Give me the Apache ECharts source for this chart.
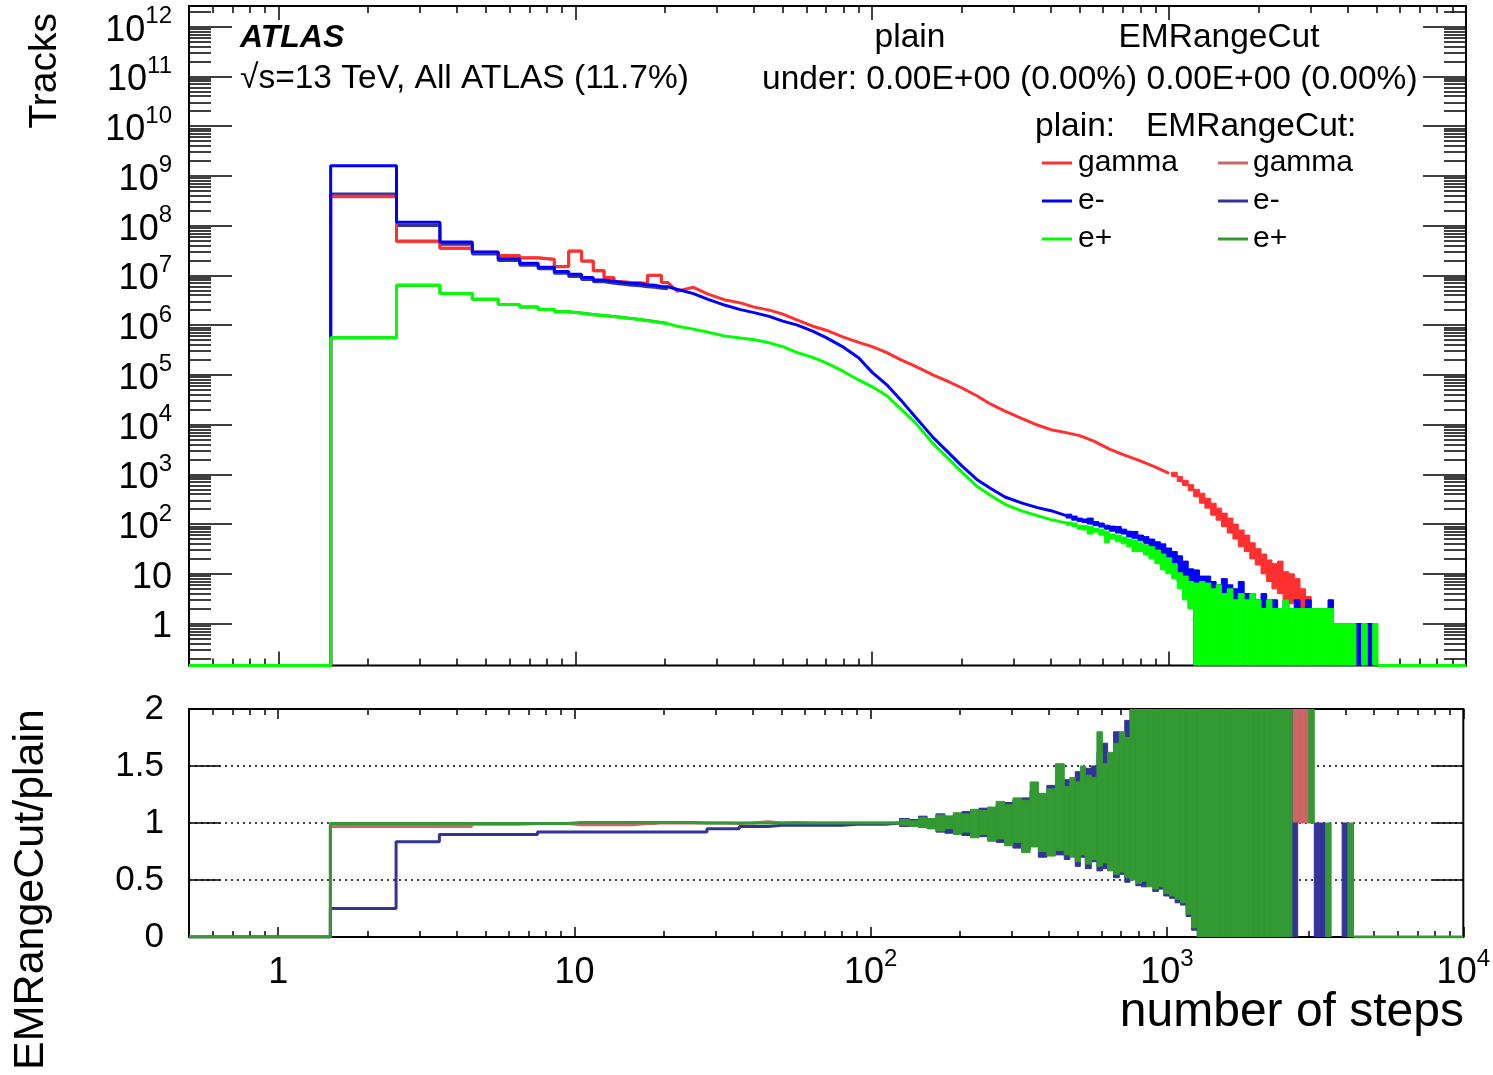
<!DOCTYPE html>
<html>
<head>
<meta charset="utf-8">
<script src="https://cdn.jsdelivr.net/npm/echarts@6/dist/echarts.min.js"></script>
<style>
html, body { margin: 0; padding: 0; background: #fff; }
#container { width: 1493px; height: 1075px; }
</style>
</head>
<body>
<div id="container"></div>
<script>
// number of steps per track, single bins (centres)
var lowSteps = [2, 3, 4, 5, 6, 7, 8, 9, 10, 11, 12, 13, 14, 15, 16, 17, 18, 19, 20];
// tracks, plain
var gammaLow  = [3.9e8, 4.9e7, 3.55e7, 2.9e7, 2.5e7, 2.25e7, 2.1e7, 1.5e7, 3.1e7, 1.95e7, 1.25e7, 9.1e6, 7.4e6, 7.2e6, 7.1e6, 6.9e6, 1.0e7, 1.0e7, 7.2e6];
var eMinusLow = [1.6e9, 1.17e8, 4.7e7, 2.95e7, 2.15e7, 1.75e7, 1.45e7, 1.2e7, 1.05e7, 9.1e6, 8.1e6, 7.6e6, 7.2e6, 6.9e6, 6.8e6, 6.5e6, 6.3e6, 6.0e6, 5.9e6];
var ePlusLow  = [5.6e5, 6.3e6, 4.3e6, 3.3e6, 2.6e6, 2.3e6, 2.05e6, 1.86e6, 1.74e6, 1.62e6, 1.55e6, 1.48e6, 1.41e6, 1.35e6, 1.29e6, 1.23e6, 1.17e6, 1.12e6, 1.07e6];
// tracks, EMRangeCut
var gammaCutLow  = [3.8e8, 4.75e7, 3.45e7, 2.87e7, 2.48e7, 2.24e7, 2.09e7, 1.49e7, 3.05e7, 1.92e7, 1.23e7, 9.0e6, 7.3e6, 7.1e6, 7.05e6, 6.9e6, 9.9e6, 9.9e6, 7.2e6];
var eMinusCutLow = [4.3e8, 1.0e8, 4.2e7, 2.7e7, 2.0e7, 1.6e7, 1.35e7, 1.1e7, 9.5e6, 8.3e6, 7.4e6, 6.9e6, 6.6e6, 6.3e6, 6.2e6, 5.9e6, 5.75e6, 5.5e6, 5.4e6];
var ePlusCutLow  = [5.6e5, 6.3e6, 4.3e6, 3.3e6, 2.6e6, 2.3e6, 2.05e6, 1.86e6, 1.75e6, 1.63e6, 1.56e6, 1.49e6, 1.42e6, 1.36e6, 1.3e6, 1.24e6, 1.18e6, 1.13e6, 1.08e6];

// smooth middle part (sampled)
var midSteps  = [22, 25, 28, 32, 36, 40, 45, 50, 56, 63, 70, 80, 90, 100, 112, 125, 140, 160, 180, 200, 225, 250, 280, 320, 360, 400, 450, 500, 560, 630, 700, 800, 900, 1000, 1120, 1210];
var gammaMid  = [4.8e6, 5.75e6, 4.2e6, 3.2e6, 2.8e6, 2.3e6, 2.0e6, 1.66e6, 1.26e6, 9.5e5, 7.9e5, 5.75e5, 4.5e5, 3.7e5, 2.8e5, 2.0e5, 1.48e5, 1.0e5, 7.4e4, 5.5e4, 3.8e4, 2.6e4, 1.86e4, 1.32e4, 9.8e3, 7.9e3, 6.9e3, 6.0e3, 4.6e3, 3.2e3, 2.5e3, 1.86e3, 1.4e3, 1.05e3, null, null];
var eMinusMid = [5.25e6, 4.3e6, 3.3e6, 2.5e6, 2.05e6, 1.78e6, 1.5e6, 1.2e6, 1.0e6, 7.6e5, 5.6e5, 3.6e5, 2.2e5, 1.12e5, 6.3e4, 3.1e4, 1.4e4, 5.6e3, 2.8e3, 1.5e3, 790, 525, 350, 263, 214, 186, 148, null, null, null, null, null, null, null, null, null];
var ePlusMid  = [9.5e5, 8.3e5, 7.2e5, 6.0e5, 5.5e5, 5.1e5, 4.4e5, 3.7e5, 2.8e5, 2.24e5, 1.74e5, 1.17e5, 7.9e4, 5.75e4, 3.8e4, 2.04e4, 1.07e4, 4.2e3, 2.1e3, 1.12e3, 575, 380, 250, 182, 148, 123, 105, null, null, null, null, null, null, null, null, null];

// noisy tail: bin groups start at tailSteps[i], end at tailSteps[i+1]; low / high tracks in the group
var tailSteps = [450, 470, 490, 510, 530, 555, 580, 605, 630, 660, 690, 720, 750, 785, 820, 855, 895, 935, 975, 1020, 1065, 1110, 1160, 1210, 1265, 1320, 1380, 1440, 1500, 1570, 1640, 1710, 1790, 1870, 1950, 2040, 2130, 2220, 2320, 2420, 2530, 2640, 2760, 2880, 3010, 3140, 3280, 3430, 3580, 3740, 3900, 4080, 4260, 4450, 4650, 4850, 5050];
var gammaTailHi = [null, null, null, null, null, null, null, null, null, null, null, null, null, null, null, null, null, null, null,
  1100, 900, 760, 620,
  500, 417, 331, 263, 209, 166, 132, 100, 76, 60, 42, 32, 25, 19, 16, 18, 11, 10, 8, 5, 3.5,
  null, null, null, null, null, null, null, null, null, null, null, null];
var gammaTailLo = [null, null, null, null, null, null, null, null, null, null, null, null, null, null, null, null, null, null, null,
  900, 720, 590, 470,
  355, 263, 209, 151, 120, 89, 66, 50, 35, 28, 20, 15, 10, 7, 5, 4, 3, 2.5, 2, 2, 2,
  null, null, null, null, null, null, null, null, null, null, null, null];
var eMinusTailHi = [158, 145, 132, 126, 132, 112, 105, 95, 91, 89, 79, 72, 71, 60, 56, 50, 44, 40, 33, 28, 23, 18, 12.6,
  12, 9, 9, 7, 6, 8, 6, 5, 7, 4, 4, 3, 4, 3, 3, 2, 3, 2, 3, 2, 3, 2, 2, 2, 3, 1, 1, 1, 1, 1, 1, 1, null];
var eMinusTailLo = [132, 120, 112, 107, 100, 93, 87, 79, 72, 66, 63, 55, 52, 46, 40, 35, 30, 22, 16, 11, 7, 4, 2,
  0, 0, 0, 0, 0, 0, 0, 0, 0, 0, 0, 0, 0, 0, 0, 0, 0, 0, 0, 0, 0, 0, 0, 0, 0, 0, 0, 0, 0, 0, 0, 0, 0];
var ePlusTailHi = [110, 105, 95, 93, 89, 83, 79, 72, 63, 60, 55, 50, 48, 42, 38, 35, 30, 25, 21, 16, 10.5, 9, 7,
  6.5, 7, 6.5, 5, 6, 4, 5, 3, 4, 3, 4, 3, 2, 3, 2, 2, 3, 2, 2, 2, 2, 2, 2, 2, 2, 1, 1, 1, 1, null, 1, null, 1];
var ePlusTailLo = [95, 89, 79, 76, 63, 69, 60, 42, 50, 44, 40, 35, 28, 28, 24, 20, 16, 12, 10, 8, 5, 3, 2,
  0, 0, 0, 0, 0, 0, 0, 0, 0, 0, 0, 0, 0, 0, 0, 0, 0, 0, 0, 0, 0, 0, 0, 0, 0, 0, 0, 0, 0, 0, 0, 0, 0];

// ratio EMRangeCut / plain
var gammaRatioLow  = [0.97, 0.97, 0.97, 0.99, 0.99, 0.995, 0.995, 0.995, 0.985, 0.985, 0.985, 0.985, 0.985, 0.985, 0.99, 0.995, 0.995, 1.0, 1.0];
var eMinusRatioLow = [0.25, 0.836, 0.90, 0.90, 0.90, 0.90, 0.92, 0.92, 0.92, 0.92, 0.92, 0.92, 0.92, 0.92, 0.92, 0.92, 0.92, 0.92, 0.92];
var ePlusRatioLow  = [0.995, 0.995, 0.995, 0.995, 0.995, 0.995, 0.995, 0.995, 1.005, 1.005, 1.005, 1.005, 1.005, 1.005, 1.005, 1.005, 1.005, 1.005, 1.005];
var ratioMidSteps  = [22, 25, 28, 32, 36, 40, 45, 50, 56, 63, 70, 80, 90, 100, 112, 125];
var gammaRatioMid  = [1.0, 1.0, 1.0, 0.995, 1.0, 1.01, 1.0, 1.005, 1.0, 1.0, 1.0, 1.0, 1.0, 1.0, 1.0, 1.0];
var eMinusRatioMid = [0.92, 0.92, 0.95, 0.95, 0.97, 0.97, 0.98, 0.98, 0.98, 0.98, 0.98, 0.99, 0.99, 0.99, 1.0, 1.0];
var ePlusRatioMid  = [1.005, 1.0, 1.0, 1.0, 1.0, 1.0, 1.0, 1.0, 1.0, 1.0, 1.0, 1.0, 1.0, 1.0, 1.0, 1.0];
var ratioPreSteps  = [125, 135, 145, 155, 166, 178, 190, 203, 217, 232, 248, 265, 283, 302, 323, 345, 368, 393, 420];
var ePlusRatioLo = [0.98, 0.97, 0.96, 0.95, 0.93, 0.95, 0.90, 0.92, 0.87, 0.90, 0.84, 0.86, 0.80, 0.83, 0.74, 0.79, 0.75, 0.71, 0.76,
  0.72, 0.70, 0.66, 0.72, 0.64, 0.68, 0.62, 0.65, 0.58, 0.55, 0.57, 0.52, 0.50, 0.47, 0.49, 0.44, 0.42, 0.44, 0.38, 0.36, 0.33, 0.30, 0.20, 0.08,
  0, 0, 0, 0, 0, 0, 0, 0, 0, 0, 0, 0, 0, 0, 0, 0, 0,
  0, 0, 0, 1, 0, 0, 0, 0, 0, 0, 0, 0, 0, 0, 0];
var ePlusRatioHi = [1.03, 1.02, 1.05, 1.04, 1.07, 1.06, 1.09, 1.08, 1.12, 1.11, 1.14, 1.19, 1.16, 1.22, 1.20, 1.36, 1.26, 1.30, 1.52,
  1.32, 1.40, 1.36, 1.50, 1.42, 1.40, 1.80, 1.52, 1.62, 1.70, 1.80, 1.75,
  2.1, 2.1, 2.1, 2.1, 2.1, 2.1, 2.1, 2.1, 2.1, 2.1, 2.1, 2.1,
  2.1, 2.1, 2.1, 2.1, 2.1, 2.1, 2.1, 2.1, 2.1, 2.1, 2.1, 2.1, 2.1, 2.1, 2.1, 2.1, 2.1,
  null, null, null, 2.1, null, null, 1, null, null, null, 1, null, null, null, null];
var eMinusRatioLo = [0.97, 0.975, 0.96, 0.95, 0.92, 0.91, 0.92, 0.89, 0.90, 0.88, 0.86, 0.83, 0.82, 0.78, 0.76, 0.80, 0.70, 0.74, 0.72,
  0.68, 0.74, 0.62, 0.70, 0.60, 0.66, 0.58, 0.60, 0.62, 0.52, 0.55, 0.48, 0.52, 0.45, 0.44, 0.46, 0.40, 0.42, 0.36, 0.34, 0.30, 0.28, 0.18, 0.06,
  0, 0, 0, 0, 0, 0, 0, 0, 0, 0, 0, 0, 0, 0, 0, 0, 0,
  0, 0, 0, 0, 0, 0, 0, 0, 0, 0, 0, 0, 0, 0, 0];
var eMinusRatioHi = [1.04, 1.03, 1.06, 1.03, 1.08, 1.06, 1.08, 1.10, 1.11, 1.13, 1.12, 1.16, 1.18, 1.20, 1.22, 1.28, 1.24, 1.33, 1.32,
  1.38, 1.36, 1.45, 1.40, 1.48, 1.50, 1.62, 1.70, 1.56, 1.80, 1.72, 1.90,
  2.1, 2.1, 2.1, 2.1, 2.1, 2.1, 2.1, 2.1, 2.1, 2.1, 2.1, 2.1,
  2.1, 2.1, 2.1, 2.1, 2.1, 2.1, 2.1, 2.1, 2.1, 2.1, 2.1, 2.1, 2.1, 2.1, 2.1, 2.1, 2.1,
  1, null, null, null, 1, 1, null, null, null, 1, null, null, null, null, null];
var gammaRatioSteps = [2640, 2760, 2880, 3010];
var gammaRatioLo = [1, 1, 1];
var gammaRatioHi = [2.1, 2.1, 2.1];

// ticks
var stepTicks  = [1, 10, 100, 1000, 10000];
var trackTicks = [1, 10, 1e2, 1e3, 1e4, 1e5, 1e6, 1e7, 1e8, 1e9, 1e10, 1e11, 1e12];
var minorMantissa = [2, 3, 4, 5, 6, 7, 8, 9];

var textFont = 'Liberation Sans';
var stepsMin = 0.5, stepsMax = 1e4;
var tracksMin = 0.1435, tracksMax = 2.6e12;
var xMin = Math.log10(stepsMin), xMax = Math.log10(stepsMax);
var yMin = Math.log10(tracksMin), yMax = Math.log10(tracksMax);

var colors = {
  gamma: '#ff3030', eMinus: '#0000ff', ePlus: '#00ff00',
  gammaCut: '#cc6666', eMinusCut: '#333399', ePlusCut: '#339933'
};

function lx(n) { return Math.log10(n); }
function fyTracks(v) { return v > 0 ? Math.max(Math.log10(v), yMin) : yMin; }
function fyRatio(v) { return v; }

function minorList(decades, lo, hi) {
  var out = [];
  decades.forEach(function (d) {
    minorMantissa.forEach(function (m) {
      var v = d * m;
      if (v > lo && v < hi) out.push(Math.log10(v));
    });
  });
  return out;
}
var xMajor = stepTicks.map(lx);
var xMinor = minorList([0.1, 1, 10, 100, 1000], stepsMin, stepsMax);
var yMajor = trackTicks.map(lx);
var yMinor = minorList([0.1].concat(trackTicks), tracksMin, tracksMax);

function histPoints(lowVals, mSteps, mVals, fy) {
  var pts = [[xMin, fy(0)], [lx(lowSteps[0] - 0.5), fy(0)]];
  lowSteps.forEach(function (n, i) {
    pts.push([lx(n - 0.5), fy(lowVals[i])]);
    pts.push([lx(n + 0.5), fy(lowVals[i])]);
  });
  if (mVals) {
    mSteps.forEach(function (n, i) {
      if (mVals[i] != null) pts.push([lx(n), fy(mVals[i])]);
    });
  }
  return pts;
}

function lineSeries(pts, color, axis, step) {
  return {
    type: 'line', xAxisIndex: axis, yAxisIndex: axis === 0 ? 0 : 4,
    data: pts, showSymbol: false, symbol: 'none', step: step || false,
    lineStyle: { color: color, width: 3 }, itemStyle: { color: color },
    animation: false, silent: true
  };
}

function bandSeries(steps, lo, hi, color, axis, fy) {
  var rows = [];
  for (var i = 0; i < hi.length; i++) {
    if (hi[i] == null) continue;
    rows.push([lx(steps[i]), lx(steps[i + 1]), fy(lo[i]), fy(hi[i])]);
  }
  return {
    type: 'custom', xAxisIndex: axis, yAxisIndex: axis === 0 ? 0 : 4,
    clip: true, animation: false, silent: true,
    encode: { x: [0, 1], y: [2, 3] },
    data: rows,
    renderItem: function (params, api) {
      var a = api.coord([api.value(0), api.value(3)]);
      var b = api.coord([api.value(1), api.value(2)]);
      return {
        type: 'rect',
        shape: { x: a[0], y: a[1], width: b[0] - a[0], height: Math.max(b[1] - a[1], 1) },
        style: { fill: color, stroke: color, lineWidth: 1 }
      };
    }
  };
}

function zeroAfter(steps, hi, fy, color, axis) {
  var last = -1;
  for (var i = 0; i < hi.length; i++) if (hi[i] != null) last = i;
  return lineSeries([[lx(steps[last + 1]), fy(0)], [xMax, fy(0)]], color, axis);
}

var labelRich = {
  b: { fontSize: 36, lineHeight: 44, verticalAlign: 'bottom', fontFamily: textFont, color: '#000' },
  s: { fontSize: 24, lineHeight: 24, verticalAlign: 'top', fontFamily: textFont, color: '#000' }
};
function powerLabel(value) {
  var p = Math.round(value);
  if (p === 0) return '{b|1}';
  if (p === 1) return '{b|10}';
  return '{b|10}{s|' + p + '}';
}

var tickLine = { color: '#000', width: 1.5 };
function mkX(grid, pos, ticks, len, labels) {
  return {
    type: 'value', gridIndex: grid, position: pos, min: xMin, max: xMax,
    axisLine: { show: false, onZero: false },
    axisTick: { show: true, inside: true, length: len, customValues: ticks, lineStyle: tickLine },
    axisLabel: labels ? { show: true, customValues: ticks, formatter: powerLabel, rich: labelRich, margin: 10 } : { show: false },
    splitLine: { show: false }
  };
}
function mkY(pos, ticks, len, labels) {
  return {
    type: 'value', gridIndex: 0, position: pos, min: yMin, max: yMax,
    axisLine: { show: false, onZero: false },
    axisTick: { show: true, inside: true, length: len, customValues: ticks, lineStyle: tickLine },
    axisLabel: labels ? { show: true, customValues: ticks, formatter: powerLabel, rich: labelRich, margin: 17 } : { show: false },
    splitLine: { show: false }
  };
}
function ratioY(pos, labels) {
  return {
    type: 'value', gridIndex: 1, position: pos, min: 0, max: 2, interval: 0.5,
    axisLine: { show: false, onZero: false },
    axisTick: { show: true, inside: true, length: 31, lineStyle: tickLine },
    axisLabel: labels ? { show: true, fontSize: 35, fontFamily: textFont, color: '#000', margin: 25 } : { show: false },
    splitLine: { show: labels, lineStyle: { color: '#000', type: [2, 4], width: 1.5 } }
  };
}

var ratioSteps = ratioPreSteps.concat(tailSteps);
var series = [
  // top panel: EMRangeCut under plain
  lineSeries(histPoints(gammaCutLow, null, null, fyTracks), colors.gammaCut, 0),
  lineSeries(histPoints(eMinusCutLow, null, null, fyTracks), colors.eMinusCut, 0),
  lineSeries(histPoints(ePlusCutLow, null, null, fyTracks), colors.ePlusCut, 0),
  lineSeries(histPoints(gammaLow, midSteps, gammaMid, fyTracks), colors.gamma, 0),
  bandSeries(tailSteps, gammaTailLo, gammaTailHi, colors.gamma, 0, fyTracks),
  lineSeries(histPoints(eMinusLow, midSteps, eMinusMid, fyTracks), colors.eMinus, 0),
  bandSeries(tailSteps, eMinusTailLo, eMinusTailHi, colors.eMinus, 0, fyTracks),
  lineSeries(histPoints(ePlusLow, midSteps, ePlusMid, fyTracks), colors.ePlus, 0),
  bandSeries(tailSteps, ePlusTailLo, ePlusTailHi, colors.ePlus, 0, fyTracks),
  zeroAfter(tailSteps, ePlusTailHi, fyTracks, colors.ePlus, 0),
  // ratio panel
  lineSeries(histPoints(gammaRatioLow, ratioMidSteps, gammaRatioMid, fyRatio), colors.gammaCut, 4, 'end'),
  bandSeries(gammaRatioSteps, gammaRatioLo, gammaRatioHi, colors.gammaCut, 4, fyRatio),
  lineSeries(histPoints(eMinusRatioLow, ratioMidSteps, eMinusRatioMid, fyRatio), colors.eMinusCut, 4, 'end'),
  bandSeries(ratioSteps, eMinusRatioLo, eMinusRatioHi, colors.eMinusCut, 4, fyRatio),
  lineSeries(histPoints(ePlusRatioLow, ratioMidSteps, ePlusRatioMid, fyRatio), colors.ePlusCut, 4, 'end'),
  bandSeries(ratioSteps, ePlusRatioLo, ePlusRatioHi, colors.ePlusCut, 4, fyRatio),
  zeroAfter(ratioSteps, ePlusRatioHi, fyRatio, colors.ePlusCut, 4)
];

function txt(x, y, s, size, extra) {
  var st = { text: s, fontSize: size, fontFamily: textFont, fill: '#000', align: 'left', verticalAlign: 'middle' };
  for (var k in extra) st[k] = extra[k];
  return { type: 'text', x: x, y: y, style: st, z: 100 };
}
function legLine(x, y, color) {
  return { type: 'line', shape: { x1: x, y1: y, x2: x + 30, y2: y }, style: { stroke: color, lineWidth: 3 }, z: 100 };
}

var graphics = [
  txt(240, 38, 'ATLAS', 32, { fontWeight: 'bold', fontStyle: 'italic' }),
  txt(240, 79, '\u221As=13 TeV, All ATLAS (11.7%)', 33.5),
  txt(910, 38, 'plain', 33.5, { align: 'center' }),
  txt(1219, 38, 'EMRangeCut', 33.5, { align: 'center' }),
  txt(762, 80, 'under: 0.00E+00 (0.00%) 0.00E+00 (0.00%)', 33.5),
  txt(1035, 127, 'plain:', 33.5),
  txt(1146, 127, 'EMRangeCut:', 33.5),
  legLine(1042, 163, colors.gamma), txt(1078, 163, 'gamma', 30),
  legLine(1042, 201, colors.eMinus), txt(1078, 201, 'e-', 30),
  legLine(1042, 239, colors.ePlus), txt(1078, 239, 'e+', 30),
  legLine(1218, 163, colors.gammaCut), txt(1253, 163, 'gamma', 30),
  legLine(1218, 201, colors.eMinusCut), txt(1253, 201, 'e-', 30),
  legLine(1218, 239, colors.ePlusCut), txt(1253, 239, 'e+', 30),
  { type: 'text', x: 45, y: 13, rotation: Math.PI / 2, z: 100,
    style: { text: 'Tracks', fontSize: 39, fontFamily: textFont, fill: '#000', align: 'right', verticalAlign: 'middle' } },
  { type: 'text', x: 31, y: 709, rotation: Math.PI / 2, z: 100,
    style: { text: 'EMRangeCut/plain', fontSize: 43, fontFamily: textFont, fill: '#000', align: 'right', verticalAlign: 'middle' } },
  txt(1464, 1013, 'number of steps', 48, { align: 'right' })
];

var dom = document.getElementById('container');
var myChart = echarts.init(dom);
var option = {
  backgroundColor: '#fff',
  animation: false,
  grid: [
    { left: 189, top: 6, width: 1277, height: 659.5, show: true, borderColor: '#000', borderWidth: 2, backgroundColor: 'transparent' },
    { left: 189, top: 709, width: 1277, height: 228, show: true, borderColor: '#000', borderWidth: 2, backgroundColor: 'transparent' }
  ],
  xAxis: [
    mkX(0, 'bottom', xMajor, 14, false),
    mkX(0, 'bottom', xMinor, 7, false),
    mkX(0, 'top', xMajor, 14, false),
    mkX(0, 'top', xMinor, 7, false),
    mkX(1, 'bottom', xMajor, 10, true),
    mkX(1, 'bottom', xMinor, 6, false),
    mkX(1, 'top', xMajor, 10, false),
    mkX(1, 'top', xMinor, 6, false)
  ],
  yAxis: [
    mkY('left', yMajor, 43, true),
    mkY('left', yMinor, 22, false),
    mkY('right', yMajor, 43, false),
    mkY('right', yMinor, 22, false),
    ratioY('left', true),
    ratioY('right', false)
  ],
  series: series,
  graphic: graphics
};
myChart.setOption(option);
</script>
</body>
</html>
